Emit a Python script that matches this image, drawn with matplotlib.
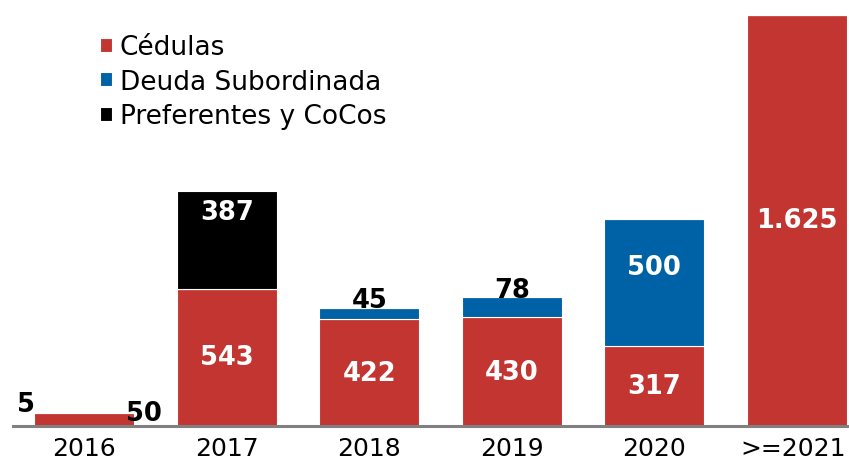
import matplotlib
matplotlib.use("Agg")
import matplotlib.pyplot as plt
import matplotlib.transforms as mtransforms
import numpy as np

years = ["2016", "2017", "2018", "2019", "2020", ">=2021"]
cedulas = [50, 543, 422, 430, 317, 1625]
subordinada = [5, 0, 45, 78, 500, 0]
preferentes = [0, 387, 0, 0, 0, 0]

RED = "#C23530"
BLUE = "#0062A6"
BLACK = "#000000"


def fmt(v):
    return f"{v:,}".replace(",", ".")


fig = plt.figure(figsize=(8.49, 4.64), dpi=100)
ax = fig.add_axes([13 / 849, 37 / 464, 836 / 849, 427 / 464])

x = np.arange(len(years))
w = 0.70
ced = np.array(cedulas)
sub = np.array(subordinada)
pref = np.array(preferentes)

ax.bar(x, ced, w, color=RED, edgecolor="white", linewidth=0.8, label="Cédulas")
ax.bar(x, sub, w, bottom=ced, color=BLUE, edgecolor="white", linewidth=0.8,
       label="Deuda Subordinada")
ax.bar(x, pref, w, bottom=ced + sub, color=BLACK, edgecolor="white", linewidth=0.8,
       label="Preferentes y CoCos")

lab = dict(fontsize=18.5, fontweight="bold", ha="center", va="center")

# Cédulas: centred white labels, except the tiny 2016 bar
for i, v in enumerate(cedulas):
    if i == 0:
        ax.text(x[i] + 0.42, 51, fmt(v), color="black", **lab)
    else:
        ax.text(x[i], v / 2, fmt(v), color="white", **lab)

# Deuda Subordinada
for i, v in enumerate(subordinada):
    if v == 0:
        continue
    top = cedulas[i] + v
    if i == 0:
        ax.text(x[i] - 0.41, 87, fmt(v), color="black", **lab)
    elif v < 150:
        ax.text(x[i], top + 30, fmt(v), color="black", **lab)
    else:
        ax.text(x[i], cedulas[i] + v * 0.62, fmt(v), color="white", **lab)

# Preferentes y CoCos
for i, v in enumerate(preferentes):
    if v == 0:
        continue
    ax.text(x[i], cedulas[i] + subordinada[i] + v * 0.78, fmt(v), color="white", **lab)

ax.set_xlim(-0.5, -0.5 + 836 / 142.5)
ax.set_ylim(0, 427 / 0.253)
ax.set_xticks(x)
ax.set_xticklabels(years, fontsize=18)
ax.tick_params(axis="x", length=0, pad=7)
# last label sits at the right edge, nudge it inwards a little
last = ax.get_xticklabels()[-1]
last.set_transform(last.get_transform()
                   + mtransforms.ScaledTranslation(-4 / 100, 0, fig.dpi_scale_trans))
ax.set_yticks([])
for s in ["top", "right", "left"]:
    ax.spines[s].set_visible(False)
ax.spines["bottom"].set_color("#808080")
ax.spines["bottom"].set_linewidth(2.2)

ax.legend(loc="upper left", bbox_to_anchor=(0.104, 0.918), frameon=False,
          fontsize=19, handlelength=0.45, handleheight=0.45, handletextpad=0.3,
          labelspacing=0.33, borderaxespad=0, borderpad=0)

fig.savefig("out.png", dpi=100)
